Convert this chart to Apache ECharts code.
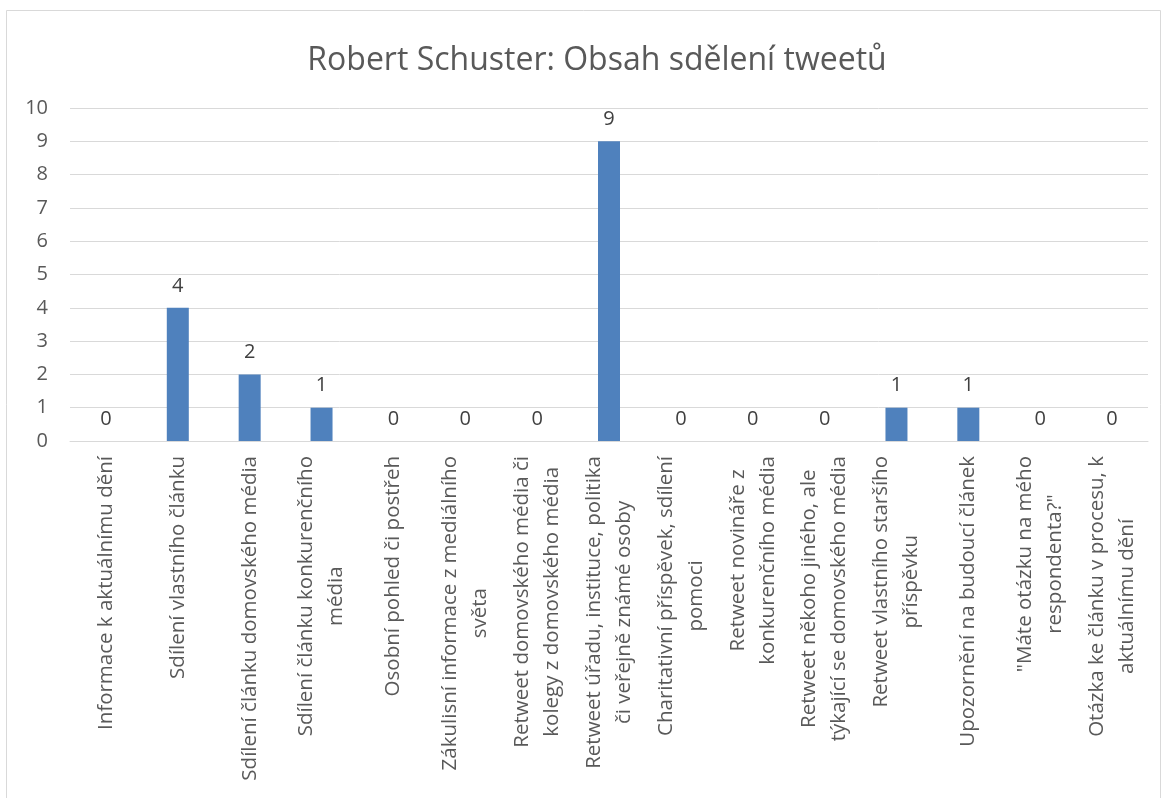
<!DOCTYPE html>
<html>
<head>
<meta charset="utf-8">
<script src="https://cdn.jsdelivr.net/npm/echarts@6/dist/echarts.min.js"></script>
<style>
html,body{margin:0;padding:0;background:#fff;}
#chart{width:1167px;height:798px;}
</style>
</head>
<body>
<div id="chart"></div>
<script>
const titleText = "Robert Schuster: Obsah sdělení tweetů";
const categories = [
  "Informace k aktuálnímu dění",
  "Sdílení vlastního článku",
  "Sdílení článku domovského média",
  "Sdílení článku konkurenčního\nmédia",
  "Osobní pohled či postřeh",
  "Zákulisní informace z mediálního\nsvěta",
  "Retweet domovského média či\nkolegy z domovského média",
  "Retweet úřadu, instituce, politika\nči veřejně známé osoby",
  "Charitativní příspěvek, sdílení\npomoci",
  "Retweet novináře z\nkonkurenčního média",
  "Retweet někoho jiného, ale\ntýkající se domovského média",
  "Retweet vlastního staršího\npříspěvku",
  "Upozornění na budoucí článek",
  "\"Máte otázku na mého\nrespondenta?\"",
  "Otázka ke článku v procesu, k\naktuálnímu dění"
];
const values = [0, 4, 2, 1, 0, 0, 0, 9, 0, 0, 0, 1, 1, 0, 0];
const yMin = 0, yMax = 10, yStep = 1;

const FONT = "Open Sans";
const chart = echarts.init(document.getElementById('chart'));
chart.setOption({
  animation: false,
  backgroundColor: '#ffffff',
  graphic: [{
    type: 'rect',
    shape: { x: 6.5, y: 10.5, width: 1154, height: 820 },
    style: { fill: 'none', stroke: '#d9d9d9', lineWidth: 1 },
    silent: true
  }],
  title: {
    text: titleText,
    left: 592,
    top: 40,
    textAlign: 'center',
    textStyle: { fontFamily: FONT, fontSize: 32, fontWeight: 'normal', color: '#595959' }
  },
  grid: { left: 70, right: 19, top: 108, bottom: 357 },
  xAxis: {
    type: 'category',
    data: categories,
    axisLine: { lineStyle: { color: '#d9d9d9', width: 1 } },
    axisTick: { show: false },
    axisLabel: {
      interval: 0,
      rotate: 90,
      margin: 15,
      formatter: function (v) {
        return v.split('\n').map(function (l) { return '{c|' + l + '}'; }).join('\n');
      },
      rich: {
        c: { align: 'center', fontFamily: FONT, fontSize: 20.5, lineHeight: 30, color: '#595959' }
      }
    }
  },
  yAxis: {
    type: 'value',
    min: yMin, max: yMax, interval: yStep,
    axisLine: { show: false },
    axisTick: { show: false },
    splitLine: { lineStyle: { color: '#d9d9d9', width: 1 } },
    axisLabel: { margin: 22, fontFamily: FONT, fontSize: 20, color: '#595959' }
  },
  series: [{
    type: 'bar',
    data: values,
    barWidth: 22,
    itemStyle: { color: '#4f81bd' },
    label: {
      show: true,
      position: 'top',
      distance: 12,
      fontFamily: FONT,
      fontSize: 20,
      color: '#404040'
    }
  }]
});
</script>
</body>
</html>
